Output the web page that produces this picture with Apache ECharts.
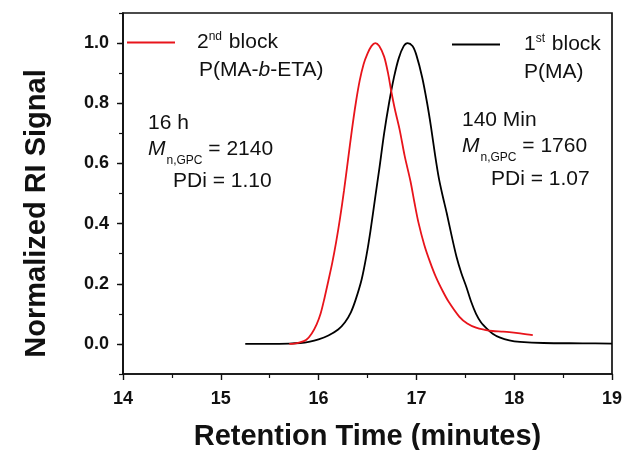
<!DOCTYPE html>
<html>
<head>
<meta charset="utf-8">
<script src="https://cdn.jsdelivr.net/npm/echarts@6/dist/echarts.min.js"></script>
<style>
  html, body { margin: 0; padding: 0; background: #fff; }
  #chart { width: 624px; height: 450px; }
</style>
</head>
<body>
<div id="chart"></div>
<script>
// GPC traces: retention time (min) vs normalized RI signal
const firstBlockTime = [15.25, 15.5, 15.7, 15.81, 15.9, 16.0, 16.1, 16.2, 16.27, 16.33, 16.38, 16.44, 16.49, 16.53, 16.58, 16.62, 16.67, 16.72, 16.77, 16.82, 16.87, 16.91, 16.96, 17.0, 17.06, 17.11, 17.15, 17.19, 17.23, 17.27, 17.31, 17.36, 17.41, 17.46, 17.51, 17.56, 17.61, 17.66, 17.72, 17.78, 17.85, 17.95, 18.06, 18.3, 18.7, 19.0];
const firstBlockSignal = [0, 0, 0.001, 0.003, 0.007, 0.015, 0.028, 0.048, 0.072, 0.105, 0.148, 0.214, 0.295, 0.375, 0.49, 0.58, 0.7, 0.8, 0.885, 0.95, 0.99, 1.0, 0.99, 0.96, 0.885, 0.8, 0.72, 0.63, 0.55, 0.49, 0.435, 0.36, 0.29, 0.235, 0.19, 0.14, 0.1, 0.072, 0.051, 0.034, 0.022, 0.012, 0.007, 0.003, 0.002, 0.001];

const secondBlockTime = [15.7, 15.75, 15.8, 15.875, 15.93, 15.98, 16.02, 16.06, 16.1, 16.14, 16.18, 16.22, 16.26, 16.3, 16.34, 16.38, 16.42, 16.46, 16.5, 16.54, 16.58, 16.62, 16.67, 16.71, 16.74, 16.78, 16.83, 16.88, 16.94, 16.98, 17.02, 17.08, 17.14, 17.2, 17.27, 17.33, 17.44, 17.52, 17.61, 17.7, 17.78, 17.87, 17.95, 18.06, 18.13, 18.19];
const secondBlockSignal = [0, 0.001, 0.004, 0.014, 0.035, 0.065, 0.1, 0.152, 0.21, 0.27, 0.34, 0.42, 0.51, 0.61, 0.71, 0.8, 0.875, 0.93, 0.965, 0.99, 1.0, 0.99, 0.955, 0.9, 0.845, 0.78, 0.71, 0.625, 0.54, 0.47, 0.405, 0.33, 0.272, 0.222, 0.175, 0.14, 0.09, 0.068, 0.054, 0.047, 0.043, 0.041, 0.039, 0.035, 0.032, 0.029];

const yLabelValues = [0, 0.2, 0.4, 0.6, 0.8, 1.0];

const pairs = (xs, ys) => xs.map((x, i) => [x, ys[i]]);

const font = '"Liberation Sans", Arial, sans-serif';
const ink = '#111';
const red = '#e8141b';

const chart = echarts.init(document.getElementById('chart'), null, { renderer: 'canvas' });

const richText = {
  n: { fontFamily: font, fontSize: 21, color: ink, lineHeight: 23 },
  i: { fontFamily: font, fontSize: 21, color: ink, fontStyle: 'italic', lineHeight: 23 },
  sub: { fontFamily: font, fontSize: 12, color: ink, verticalAlign: 'bottom', lineHeight: 14, padding: [0, 0, -6, 1] },
  sup: { fontFamily: font, fontSize: 12, color: ink, verticalAlign: 'top', lineHeight: 14, padding: [0, 1, 2, 0] },
  sp1: { width: 17 },
  sp2: { width: 19 }
};

function note(x, y, text) {
  return {
    type: 'text', left: x, top: y,
    style: { text: text, rich: richText, font: '21px ' + font, fill: ink }
  };
}

chart.setOption({
  animation: false,
  backgroundColor: '#fff',
  grid: {
    left: 123, right: 12, top: 13, bottom: 76,
    outerBoundsMode: 'none',
    show: true, borderColor: ink, borderWidth: 1.7, backgroundColor: 'transparent'
  },
  legend: [
    {
      data: ['2nd block'], left: 127, top: 31, padding: 0,
      icon: 'rect', itemWidth: 48, itemHeight: 2,
      formatter: () => '{sp1|}{n|2}{sup|nd}{n| block}',
      textStyle: { rich: richText }
    },
    {
      data: ['1st block'], left: 452, top: 33, padding: 0,
      icon: 'rect', itemWidth: 48, itemHeight: 2,
      formatter: () => '{sp2|}{n|1}{sup|st}{n| block}',
      textStyle: { rich: richText }
    }
  ],
  xAxis: {
    type: 'value', min: 14, max: 19, interval: 1,
    axisLine: { onZero: false, lineStyle: { color: ink, width: 1.7 } },
    axisTick: { show: true, length: 6, lineStyle: { color: ink, width: 1.4 } },
    minorTick: { show: true, splitNumber: 2, length: 4, lineStyle: { color: ink, width: 1.2 } },
    splitLine: { show: false },
    axisLabel: { margin: 16, fontFamily: font, fontWeight: 'bold', fontSize: 18, color: ink },
    name: 'Retention Time (minutes)', nameLocation: 'middle', nameGap: 48,
    nameTextStyle: { fontFamily: font, fontWeight: 'bold', fontSize: 29, color: ink }
  },
  yAxis: [
    {
      type: 'value', min: -0.1, max: 1.1, interval: 0.1,
      axisLine: { onZero: false, lineStyle: { color: ink, width: 1.7 } },
      axisTick: { show: true, length: 6, customValues: yLabelValues, lineStyle: { color: ink, width: 1.4 } },
      splitLine: { show: false },
      axisLabel: {
        customValues: yLabelValues, margin: 14,
        fontFamily: font, fontWeight: 'bold', fontSize: 18, color: ink,
        formatter: v => v.toFixed(1)
      },
      name: 'Normalized RI Signal', nameLocation: 'middle', nameGap: 72, nameRotate: 90,
      nameTextStyle: { fontFamily: font, fontWeight: 'bold', fontSize: 29, color: ink, padding: [0, 40, 0, 0] }
    },
    {
      // short ticks every 0.1
      type: 'value', min: -0.1, max: 1.1, interval: 0.1, position: 'left',
      axisLine: { show: false },
      axisTick: { show: true, length: 4, lineStyle: { color: ink, width: 1.2 } },
      axisLabel: { show: false },
      splitLine: { show: false }
    }
  ],
  series: [
    {
      name: '2nd block', type: 'line', symbol: 'none', smooth: 0.3,
      data: pairs(secondBlockTime, secondBlockSignal),
      lineStyle: { color: red, width: 1.8 }, itemStyle: { color: red },
      z: 3
    },
    {
      name: '1st block', type: 'line', symbol: 'none', smooth: 0.3,
      data: pairs(firstBlockTime, firstBlockSignal),
      lineStyle: { color: '#000', width: 1.8 }, itemStyle: { color: '#000' },
      z: 2
    }
  ],
  graphic: [
    note(199, 60, '{n|P(MA-}{i|b}{n|-ETA)}'),
    note(524, 62, '{n|P(MA)}'),
    note(148, 113, '{n|16 h}'),
    note(148, 139, '{i|M}{sub|n,GPC}{n| = 2140}'),
    note(173, 171, '{n|PDi = 1.10}'),
    note(462, 110, '{n|140 Min}'),
    note(462, 136, '{i|M}{sub|n,GPC}{n| = 1760}'),
    note(491, 169, '{n|PDi = 1.07}')
  ]
});
</script>
</body>
</html>
